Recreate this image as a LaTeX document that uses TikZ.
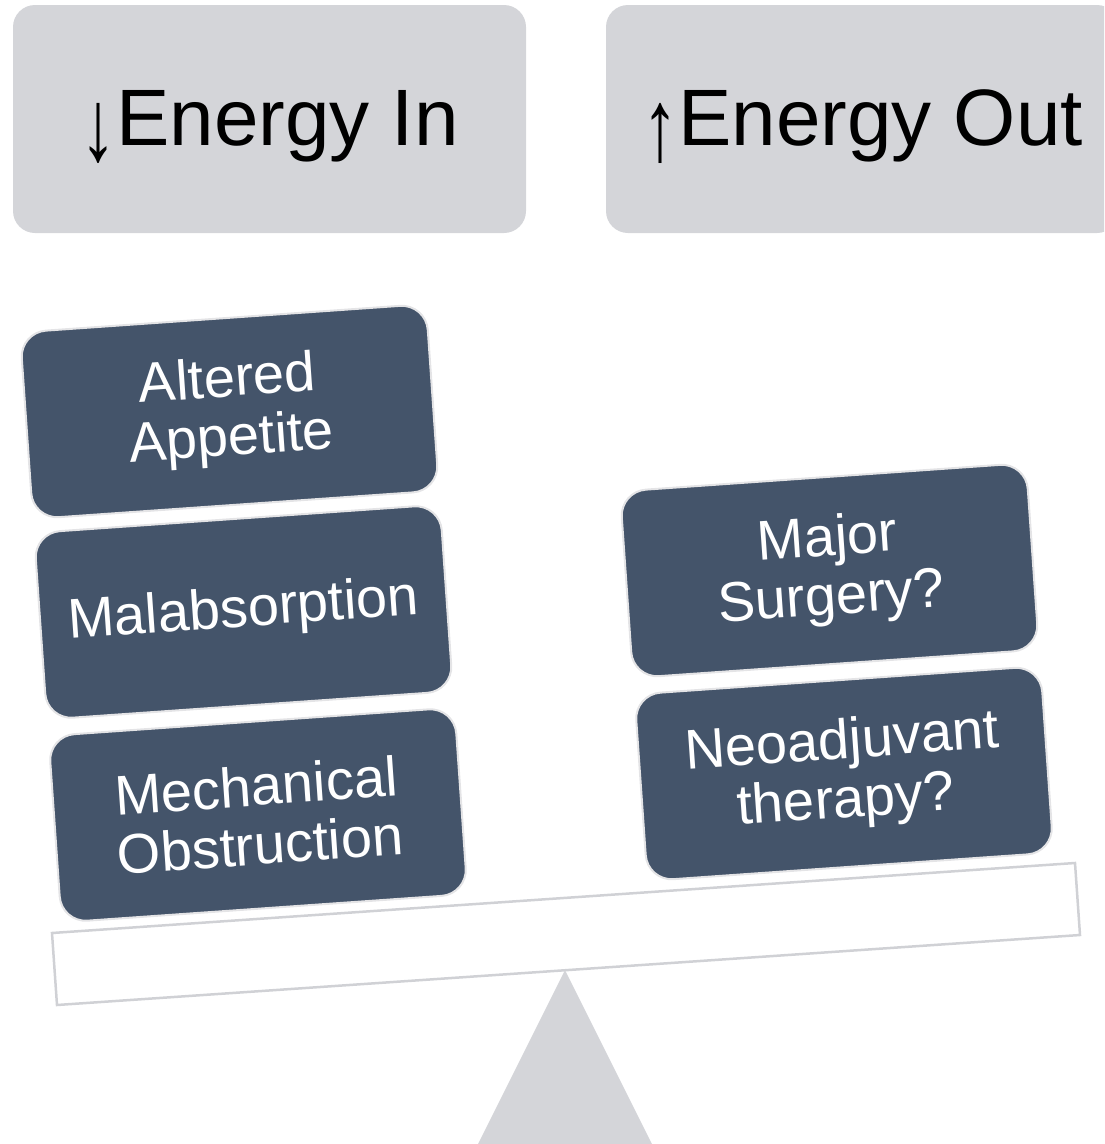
\documentclass[tikz,border=0pt]{standalone}
\usepackage{fontspec}
\setmainfont{Liberation Sans}
\usepackage{graphicx}
\usepackage{tikz}
\definecolor{panel}{HTML}{D4D5D9}
\definecolor{slate}{HTML}{44546A}
\definecolor{rim}{HTML}{E4E4E6}
\definecolor{beam}{HTML}{D0D1D5}
\newcommand{\tallarrow}[1]{\raisebox{-15pt}{\scalebox{0.9}[1.27]{#1}}}

\begin{document}
\begin{tikzpicture}[x=1pt, y=-1pt,
    header/.style={fill=panel, rounded corners=22pt, minimum width=513pt, minimum height=228pt,
        inner sep=0pt, text height=57pt, text depth=5pt, font=\fontsize{80}{96}\selectfont},
    factor/.style={fill=slate, draw=rim, line width=2pt, rounded corners=26pt, rotate=4,
        minimum width=407pt, minimum height=187pt, inner sep=0pt, text=white, align=center,
        font=\fontsize{56}{59}\selectfont}]
    \useasboundingbox (0,0) rectangle (1104,1144);
    \clip (0,0) rectangle (1104,1144);

    % Headers
    \node[header] (in) at (269.5,119) {\tallarrow{↓}Energy In};
    \node[header] (out) at (862.5,119) {\tallarrow{↑}Energy Out};

    % Balance beam and pivot
    \draw[beam, line width=2.5pt] (52,933) -- (1075,863) -- (1080,935) -- (57,1005) -- cycle;
    \fill[panel] (565,970) -- (655,1150) -- (475,1150) -- cycle;

    % Left pan: energy in
    \node[factor] (appetite) at (229.5,411.5) {Altered\\Appetite};
    \node[factor] (malabs) at (243.5,612) {Malabsorption};
    \node[factor] (obstruct) at (258,815) {Mechanical\\Obstruction};

    % Right pan: energy out
    \node[factor] (surgery) at (829.5,570.5) {Major\\Surgery?};
    \node[factor] (neoadj) at (844,773.5) {Neoadjuvant\\therapy?};
\end{tikzpicture}
\end{document}
